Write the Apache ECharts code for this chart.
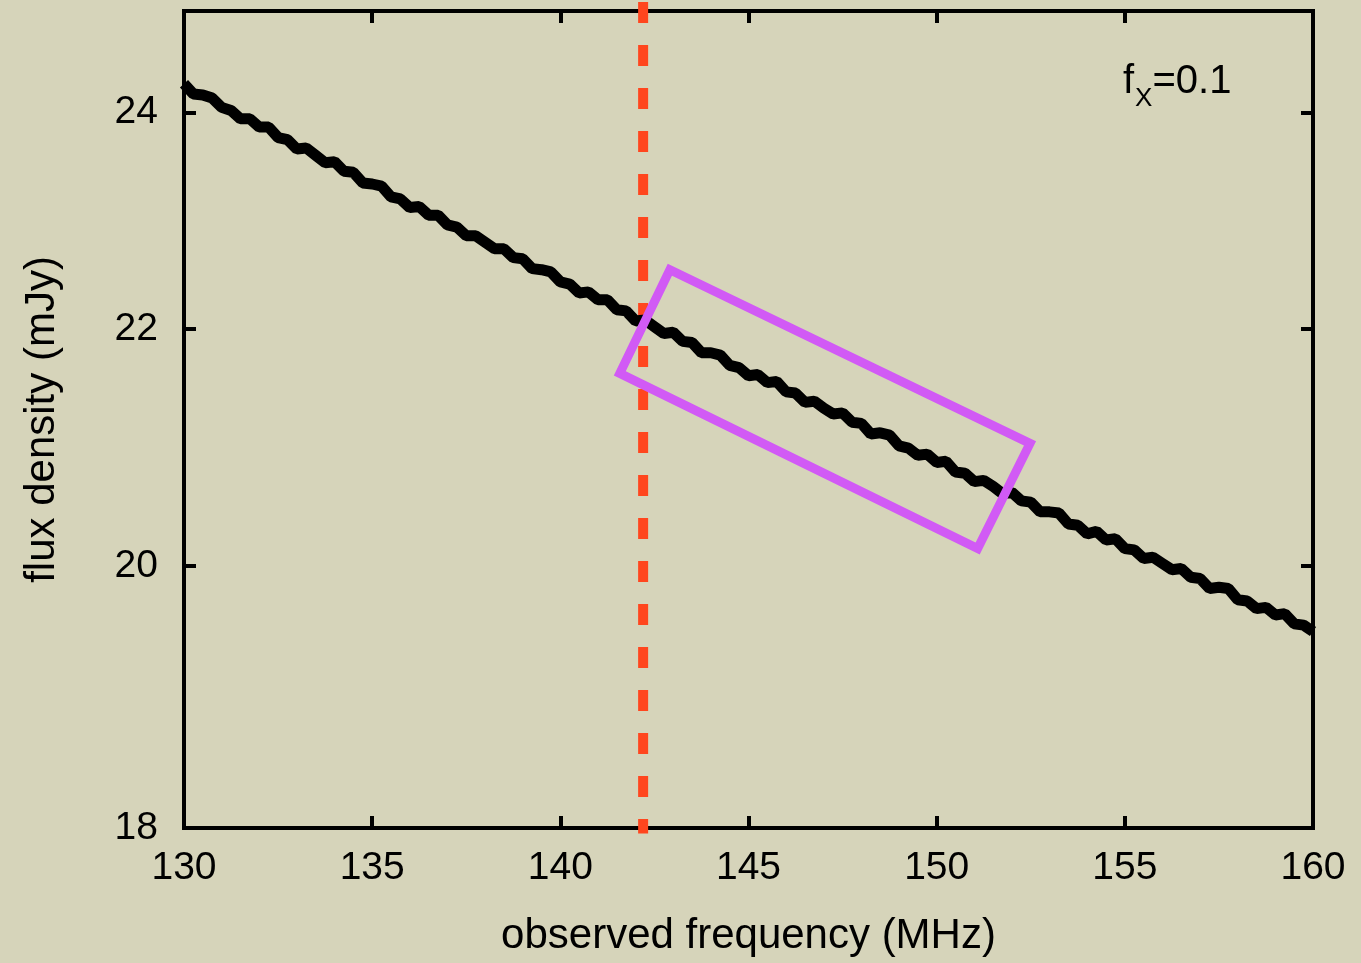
<!DOCTYPE html>
<html>
<head>
<meta charset="utf-8">
<script src="https://cdn.jsdelivr.net/npm/echarts@6/dist/echarts.min.js"></script>
<style>
  html, body { margin: 0; padding: 0; background: #d6d4ba; }
  #chart { width: 1361px; height: 963px; }
</style>
</head>
<body>
<div id="chart"></div>
<script>
// observed frequency (MHz), 0.25 MHz steps
var freq = [
  130.00, 130.25, 130.50, 130.75, 131.00, 131.25, 131.50, 131.75, 132.00, 132.25, 132.50, 132.75,
  133.00, 133.25, 133.50, 133.75, 134.00, 134.25, 134.50, 134.75, 135.00, 135.25, 135.50, 135.75,
  136.00, 136.25, 136.50, 136.75, 137.00, 137.25, 137.50, 137.75, 138.00, 138.25, 138.50, 138.75,
  139.00, 139.25, 139.50, 139.75, 140.00, 140.25, 140.50, 140.75, 141.00, 141.25, 141.50, 141.75,
  142.00, 142.25, 142.50, 142.75, 143.00, 143.25, 143.50, 143.75, 144.00, 144.25, 144.50, 144.75,
  145.00, 145.25, 145.50, 145.75, 146.00, 146.25, 146.50, 146.75, 147.00, 147.25, 147.50, 147.75,
  148.00, 148.25, 148.50, 148.75, 149.00, 149.25, 149.50, 149.75, 150.00, 150.25, 150.50, 150.75,
  151.00, 151.25, 151.50, 151.75, 152.00, 152.25, 152.50, 152.75, 153.00, 153.25, 153.50, 153.75,
  154.00, 154.25, 154.50, 154.75, 155.00, 155.25, 155.50, 155.75, 156.00, 156.25, 156.50, 156.75,
  157.00, 157.25, 157.50, 157.75, 158.00, 158.25, 158.50, 158.75, 159.00, 159.25, 159.50, 159.75,
  160.00
];
// flux density (mJy), noisy spectrum
var flux = [
  24.28, 24.18, 24.17, 24.14, 24.05, 24.02, 23.94, 23.94, 23.86, 23.86, 23.76, 23.74,
  23.65, 23.66, 23.59, 23.52, 23.53, 23.44, 23.43, 23.33, 23.32, 23.30, 23.20, 23.18,
  23.10, 23.11, 23.03, 23.03, 22.94, 22.92, 22.84, 22.84, 22.78, 22.72, 22.72, 22.64,
  22.63, 22.54, 22.53, 22.51, 22.42, 22.40, 22.32, 22.33, 22.26, 22.26, 22.17, 22.16,
  22.07, 22.08, 22.02, 21.96, 21.97, 21.89, 21.88, 21.79, 21.79, 21.77, 21.68, 21.66,
  21.59, 21.60, 21.53, 21.54, 21.45, 21.44, 21.36, 21.37, 21.31, 21.26, 21.27, 21.19,
  21.18, 21.09, 21.10, 21.08, 20.99, 20.97, 20.91, 20.92, 20.85, 20.86, 20.77, 20.76,
  20.69, 20.70, 20.65, 20.59, 20.60, 20.53, 20.52, 20.44, 20.44, 20.43, 20.34, 20.33,
  20.26, 20.28, 20.21, 20.22, 20.14, 20.13, 20.06, 20.07, 20.02, 19.97, 19.98, 19.91,
  19.90, 19.82, 19.83, 19.82, 19.73, 19.72, 19.66, 19.67, 19.61, 19.62, 19.54, 19.53,
  19.48
];

// dashed marker line
var cutFreq = [142.2, 142.2];
var cutFlux = [25.09, 17.96];

// highlight box corners (closed, first edge repeated for a clean corner)
var boxFreq = [142.91, 152.48, 151.09, 141.58, 142.91, 152.48];
var boxFlux = [22.53, 21.01, 20.14, 21.61, 22.53, 21.01];

var yTicks = [18, 20, 22, 24];

var FONT = 'Liberation Sans';

function pairs(xs, ys) {
  return xs.map(function (x, i) { return [x, ys[i]]; });
}

var chart = echarts.init(document.getElementById('chart'));

var tickStyle = { show: true, inside: true, length: 12, lineStyle: { color: '#000', width: 4 } };

var option = {
  backgroundColor: '#d6d4ba',
  animation: false,
  grid: {
    left: 184, right: 48, top: 11, bottom: 135,
    show: true, borderColor: '#000', borderWidth: 4, backgroundColor: 'transparent'
  },
  xAxis: [
    {
      type: 'value', min: 130, max: 160, interval: 5, position: 'bottom',
      name: 'observed frequency (MHz)', nameLocation: 'middle', nameGap: 87,
      nameTextStyle: { fontFamily: FONT, fontSize: 42, color: '#000' },
      axisLine: { show: true, lineStyle: { color: '#000', width: 4 } },
      axisTick: tickStyle,
      axisLabel: { fontFamily: FONT, fontSize: 39, color: '#000', margin: 21 },
      splitLine: { show: false }
    },
    {
      type: 'value', min: 130, max: 160, interval: 5, position: 'top',
      axisLine: { show: true, lineStyle: { color: '#000', width: 4 } },
      axisTick: tickStyle,
      axisLabel: { show: false },
      splitLine: { show: false }
    }
  ],
  yAxis: [
    {
      type: 'log', logBase: 10, min: 18, max: 25, position: 'left',
      name: 'flux density (mJy)', nameLocation: 'middle', nameGap: 121,
      nameTextStyle: { fontFamily: FONT, fontSize: 42, color: '#000' },
      axisLine: { show: true, lineStyle: { color: '#000', width: 4 } },
      axisTick: Object.assign({}, tickStyle, { customValues: yTicks }),
      axisLabel: { fontFamily: FONT, fontSize: 39, color: '#000', margin: 26, customValues: yTicks },
      minorTick: { show: false },
      splitLine: { show: false }
    },
    {
      type: 'log', logBase: 10, min: 18, max: 25, position: 'right',
      axisLine: { show: true, lineStyle: { color: '#000', width: 4 } },
      axisTick: Object.assign({}, tickStyle, { customValues: yTicks }),
      axisLabel: { show: false },
      splitLine: { show: false }
    }
  ],
  graphic: [
    {
      type: 'text', left: 1123, top: 62, z: 100,
      style: {
        text: '{a|f}{s|X}{a|=0.1}',
        rich: {
          a: { fontFamily: FONT, fontSize: 40, lineHeight: 42, verticalAlign: 'top', fill: '#000' },
          s: { fontFamily: FONT, fontSize: 26, lineHeight: 27, verticalAlign: 'top', padding: [24, 0, 0, 1], fill: '#000' }
        }
      }
    }
  ],
  series: [
    {
      name: 'cut', type: 'line', data: pairs(cutFreq, cutFlux),
      xAxisIndex: 0, yAxisIndex: 0, clip: false, symbol: 'none', silent: true, z: 1,
      lineStyle: { color: '#ff461e', width: 10, type: [21, 22], cap: 'butt' }
    },
    {
      name: 'spectrum', type: 'line', data: pairs(freq, flux),
      xAxisIndex: 0, yAxisIndex: 0, symbol: 'none', silent: true, z: 2,
      lineStyle: { color: '#000', width: 11 }
    },
    {
      name: 'box', type: 'line', data: pairs(boxFreq, boxFlux),
      xAxisIndex: 0, yAxisIndex: 0, symbol: 'none', silent: true, z: 3,
      lineStyle: { color: '#d15af5', width: 9, join: 'miter' }
    }
  ]
};

chart.setOption(option);
</script>
</body>
</html>
